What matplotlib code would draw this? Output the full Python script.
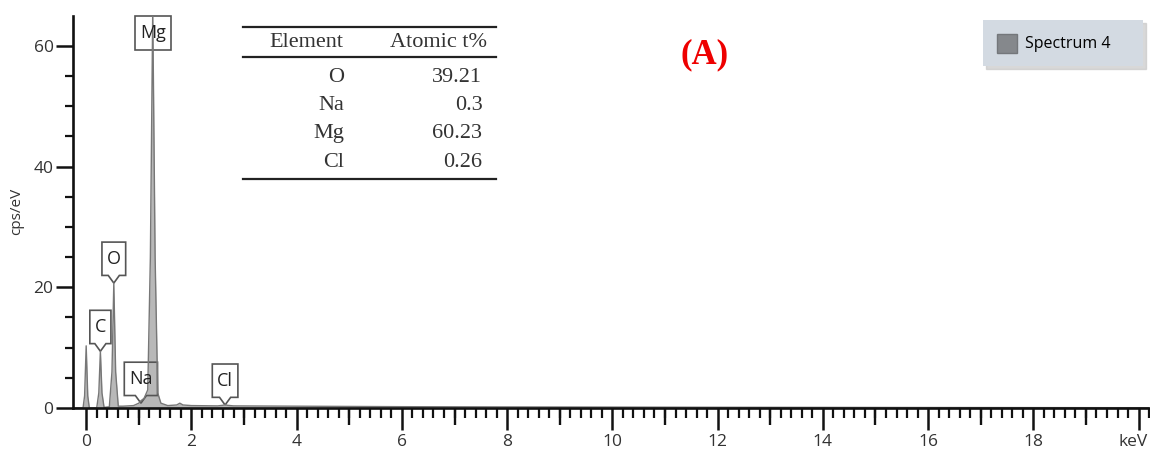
import numpy as np
import matplotlib
matplotlib.use("Agg")
import matplotlib.pyplot as plt
import matplotlib.transforms as mtransforms
from matplotlib.patches import Patch, Polygon
from matplotlib.lines import Line2D

plt.rcParams['font.family'] = ['Open Sans', 'DejaVu Sans']

# EDS spectrum, energy (keV) vs counts (cps/eV)
energy = [-0.25, -0.06, -0.03, 0.0, 0.03, 0.06, 0.20, 0.24, 0.27, 0.30, 0.34,
          0.44, 0.49, 0.525, 0.56, 0.61, 0.70, 0.90, 1.00, 1.04, 1.10, 1.17,
          1.22, 1.265, 1.31, 1.36, 1.42, 1.55, 1.72, 1.78, 1.84, 2.0, 2.5,
          2.6, 2.64, 2.68, 2.8, 4.0, 6.0, 8.0, 12.0, 16.0, 20.2]
counts = [0, 0, 2.0, 10.3, 2.0, 0, 0, 2.5, 9.4, 2.5, 0.1,
          0.2, 6.0, 20.7, 6.0, 0.3, 0.3, 0.4, 0.8, 1.2, 1.6, 3.0,
          25.0, 66.0, 25.0, 2.5, 0.8, 0.4, 0.5, 0.8, 0.5, 0.4, 0.35,
          0.45, 0.55, 0.45, 0.35, 0.3, 0.22, 0.18, 0.12, 0.08, 0.05]

# peak markers
tag_names = ['C', 'O', 'Na', 'Cl']
tag_energy = [0.27, 0.525, 1.04, 2.64]
tag_counts = [9.4, 20.7, 0.8, 0.5]
top_tag_name = 'Mg'
top_tag_energy = 1.265

# quantification table
elements = ['O', 'Na', 'Mg', 'Cl']
atomic_pct = ['39.21', '0.3', '60.23', '0.26']

xtick_vals = np.arange(0, 20.1, 2)
xtick_labels = [str(int(v)) for v in xtick_vals[:-1]] + ['keV']

fig = plt.figure(figsize=(11.5, 4.55), dpi=100)
ax = fig.add_axes([0.0635, 0.1033, 0.9357, 0.8622])

ax.fill_between(energy, counts, color='#b8b8b8', lw=0)
ax.plot(energy, counts, color='#777777', lw=1.0)

ax.set_xlim(-0.25, 20.2)
ax.set_ylim(0, 65)

for side in ['top', 'right']:
    ax.spines[side].set_visible(False)
for side in ['left', 'bottom']:
    ax.spines[side].set_linewidth(1.9)
    ax.spines[side].set_color('#111111')

ax.set_xticks(xtick_vals)
ax.set_xticklabels(xtick_labels)
ax.set_xticks(np.arange(0, 20.21, 0.2), minor=True)
ax.set_yticks([0, 20, 40, 60])
ax.set_yticks(np.arange(0, 65, 5), minor=True)
ax.tick_params(axis='x', which='major', direction='out', length=16, width=1.8,
               labelsize=12.5, colors='#111111', labelcolor='#333333', pad=3)
ax.tick_params(axis='x', which='minor', direction='out', length=7, width=1.6,
               colors='#111111')
ax.tick_params(axis='y', which='major', direction='out', length=12, width=1.8,
               labelsize=12.5, colors='#111111', labelcolor='#333333', pad=2)
ax.tick_params(axis='y', which='minor', direction='out', length=6, width=1.6,
               colors='#111111')

# pull the unit label in from the right edge
unit_lbl = ax.get_xticklabels()[-1]
unit_lbl.set_transform(unit_lbl.get_transform()
                       + mtransforms.ScaledTranslation(-4 / 72, 0, fig.dpi_scale_trans))

# medium ticks on odd keV
sec = ax.secondary_xaxis('bottom')
sec.set_xticks(np.arange(1, 20, 2))
sec.tick_params(length=12, width=1.7, labelbottom=False, colors='#111111')
sec.spines['bottom'].set_visible(False)

ax.set_ylabel('cps/eV', fontsize=11, color='#333333')
ax.yaxis.set_label_coords(-0.045, 0.5)

leg = ax.legend(handles=[Patch(facecolor='#85888c', edgecolor='#74777b',
                               label='Spectrum 4')],
                loc='upper left', bbox_to_anchor=(0.8457, 0.8616, 0.1490, 0.1274),
                mode='expand', borderaxespad=0, fontsize=11.5, handlelength=1.3,
                handleheight=1.45, handletextpad=0.5, borderpad=0.85,
                fancybox=False, framealpha=1,
                shadow={'color': '#c8c8c8', 'alpha': 0.7})
leg.get_frame().set_facecolor('#d3dae2')
leg.get_frame().set_edgecolor('none')

# peak tags
tip, box_h, tip_w, pad = 5.5, 24, 4, 3.5
texts = []
for name, e, c in zip(tag_names, tag_energy, tag_counts):
    t = ax.annotate(name, (e, c), xytext=(0, tip + box_h / 2), textcoords='offset points',
                    ha='center', va='center', fontsize=13, color='#222222')
    texts.append(t)
mg = ax.annotate(top_tag_name, (top_tag_energy, 65), xytext=(0, -box_h / 2 - 0.5),
                 textcoords='offset points', ha='center', va='center',
                 fontsize=13, color='#222222', annotation_clip=False)

fig.canvas.draw()
pt = mtransforms.Affine2D().scale(fig.dpi / 72)
for t, e, c in zip(texts, tag_energy, tag_counts):
    w = t.get_window_extent().width * 72 / fig.dpi + 2 * pad
    verts = [(0, 0), (-tip_w, tip), (-w / 2, tip), (-w / 2, tip + box_h),
             (w / 2, tip + box_h), (w / 2, tip), (tip_w, tip)]
    poly = Polygon(verts, closed=True, fill=False, ec='#555555', lw=1.2,
                   transform=pt + mtransforms.ScaledTranslation(e, c, ax.transData))
    ax.add_artist(poly)

w = mg.get_window_extent().width * 72 / fig.dpi + 2 * pad
h = box_h + 1
verts = [(-w / 2, 0), (w / 2, 0), (w / 2, -h), (-w / 2, -h)]
poly = Polygon(verts, closed=True, fill=False, ec='#555555', lw=1.2, clip_on=False,
               transform=pt + mtransforms.ScaledTranslation(top_tag_energy, 65, ax.transData))
ax.add_artist(poly)

# table
serif = ['Liberation Serif', 'DejaVu Serif']
x0, x1 = 0.2113, 0.4313
for y in [0.9407, 0.8747, 0.6060]:
    fig.add_artist(Line2D([x0, x1], [y, y], color='#222222', lw=1.6))
fig.text(0.2985, 0.9055, 'Element', ha='right', va='center', fontsize=16,
         family=serif, color='#333333')
fig.text(0.4235, 0.9055, 'Atomic t%', ha='right', va='center', fontsize=16,
         family=serif, color='#333333')
row_y = [0.8297, 0.7692, 0.7055, 0.6418]
for el, val, y in zip(elements, atomic_pct, row_y):
    fig.text(0.2995, y, el, ha='right', va='center', fontsize=16, family=serif,
             color='#333333')
    fig.text(0.4195, y, val, ha='right', va='center', fontsize=16, family=serif,
             color='#333333')

fig.text(0.613, 0.879, '(A)', ha='center', va='center', fontsize=25,
         fontweight='bold', family=serif, color='#ee0000')

fig.savefig('out.png', dpi=100)
